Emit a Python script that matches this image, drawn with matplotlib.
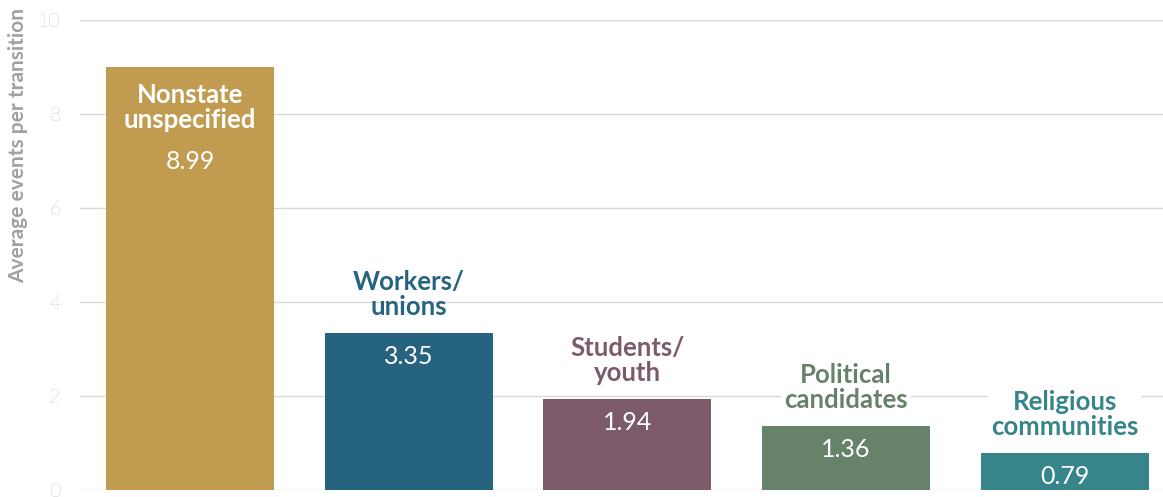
import matplotlib.pyplot as plt

plt.rcParams.update({
    "font.family": ["Lato", "DejaVu Sans"],
})

categories = ["Nonstate\nunspecified", "Workers/\nunions", "Students/\nyouth",
              "Political\ncandidates", "Religious\ncommunities"]
values = [8.99, 3.35, 1.94, 1.36, 0.79]
colors = ["#C19C50", "#26637F", "#7B5B6A", "#66826B", "#36858A"]
# labels that sit on a gridline get a white backing
halo = [False, False, False, True, True]
yticks = [0, 2, 4, 6, 8, 10]

fig = plt.figure(figsize=(11.63, 4.97), dpi=100)
ax = fig.add_axes([80 / 1163, 7 / 497, 1083 / 1163, 470 / 497])

x = list(range(len(values)))
ax.bar(x, values, width=0.768, color=colors, zorder=2)

name_kw = dict(textcoords="offset points", ha="center", fontsize=18.5,
               fontweight="bold", linespacing=1.05, zorder=4)
for xi, v, name, c, h in zip(x, values, categories, colors, halo):
    if v > 6:
        # tall bar: name and value both sit inside
        ax.annotate(name, (xi, v), xytext=(0, -29), va="center", color="white",
                    **name_kw)
        ax.annotate(f"{v:.2f}", (xi, v), xytext=(0, -68), textcoords="offset points",
                    ha="center", va="center", color="white", fontsize=18, zorder=4)
    else:
        ax.annotate(f"{v:.2f}", (xi, v), xytext=(0, -17), textcoords="offset points",
                    ha="center", va="center", color="white", fontsize=18, zorder=4)
        bbox = dict(facecolor="white", edgecolor="none", pad=2) if h else None
        ax.annotate(name, (xi, v), xytext=(0, 10), va="bottom", color=c,
                    bbox=bbox, **name_kw)

ax.set_xlim(-0.503, 4.449)
ax.set_ylim(0, 10)
ax.set_yticks(yticks)
ax.set_xticks([])
ax.grid(axis="y", color="#d9d9d9", linewidth=1, zorder=0)
ax.set_axisbelow(True)
for s in ax.spines.values():
    s.set_visible(False)
ax.tick_params(axis="y", length=0, pad=14, labelsize=14, labelcolor="#909090")
for lbl in ax.get_yticklabels():
    lbl.set_fontweight("light")

fig.text(18 / 1163, 1 - 8 / 497, "Average events per transition", rotation=90,
         ha="center", va="top", fontsize=15, fontweight="bold", color="#a0a0a0")

fig.savefig("out.png", dpi=100)
